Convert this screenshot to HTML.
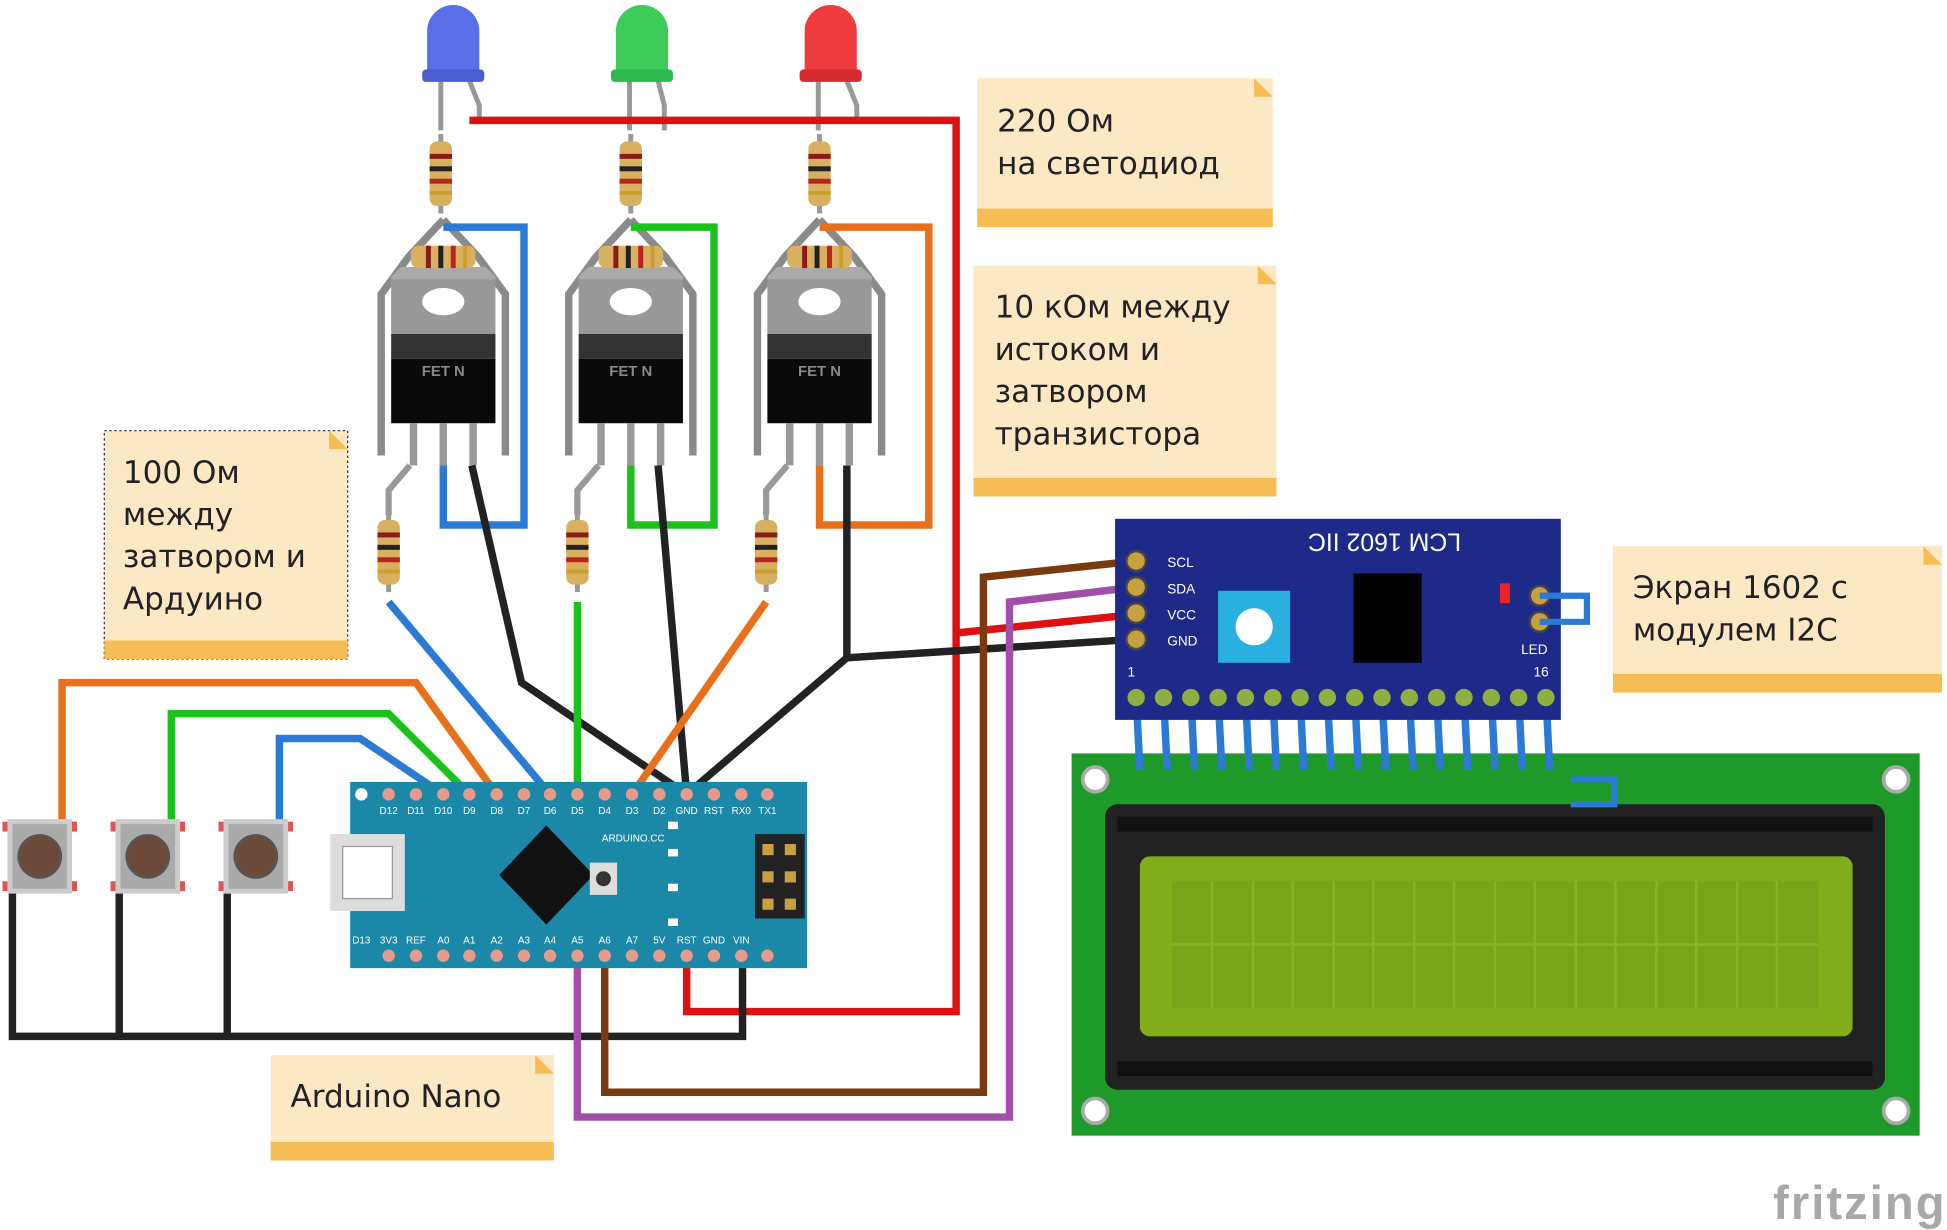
<!DOCTYPE html>
<html><head><meta charset="utf-8"><style>
html,body{margin:0;padding:0;background:#fff;}
svg{display:block}
text{font-family:"Liberation Sans","DejaVu Sans",sans-serif}
.n{font-family:"DejaVu Sans","Liberation Sans",sans-serif;font-size:25px;fill:#222}
</style></head><body>
<svg width="1947" height="1230" viewBox="0 0 1568 991" preserveAspectRatio="none" xmlns="http://www.w3.org/2000/svg">
<rect width="1568" height="991" fill="#fff"/>
<defs>
<g id="fet">
  <path d="M0,-30 L-28,0 L-50,30 L-50,160" fill="none" stroke="#8a8a8a" stroke-width="6"/>
  <path d="M0,-30 L28,0 L50,30 L50,160" fill="none" stroke="#8a8a8a" stroke-width="6"/>
  <path d="M-42,20 h84 v-4 l-8,-8 h-68 l-8,8z" fill="#aaa"/>
  <rect x="-42" y="18" width="84" height="44" fill="#999"/>
  <ellipse cx="0" cy="36" rx="17" ry="11" fill="#fff"/>
  <rect x="-42" y="62" width="84" height="20" fill="#333"/>
  <rect x="-42" y="82" width="84" height="52" fill="#0a0a0a"/>
  <text x="0" y="96" font-size="12" font-weight="bold" fill="#888" text-anchor="middle">FET N</text>
  <rect x="-27" y="134" width="6" height="34" fill="#999"/>
  <rect x="-3" y="134" width="6" height="34" fill="#999"/>
  <rect x="21" y="134" width="6" height="34" fill="#999"/>
</g>
<g id="resv">
  <rect x="-2" y="-32" width="4" height="64" fill="#999"/>
  <rect x="-9" y="-26" width="18" height="52" rx="6" fill="#d8b060"/>
  <rect x="-9" y="-16" width="18" height="4" fill="#8b1a1a"/>
  <rect x="-9" y="-6" width="18" height="4" fill="#222"/>
  <rect x="-9" y="4" width="18" height="4" fill="#b22"/>
  <rect x="-9" y="14" width="18" height="3" fill="#c9a030"/>
</g>
<g id="resh">
  <rect x="-26" y="-9" width="52" height="18" rx="6" fill="#d8b060"/>
  <rect x="-14" y="-9" width="4" height="18" fill="#8b1a1a"/>
  <rect x="-4" y="-9" width="4" height="18" fill="#222"/>
  <rect x="6" y="-9" width="4" height="18" fill="#b22"/>
  <rect x="16" y="-9" width="3" height="18" fill="#c9a030"/>
</g>
<g id="btn">
  <rect x="-26" y="-30" width="52" height="60" fill="#ccc"/>
  <rect x="-22" y="-26" width="44" height="52" fill="#aaa"/>
  <circle r="17" fill="#6b4a3a" stroke="#555" stroke-width="2"/>
  <rect x="-30" y="-28" width="4" height="8" fill="#d55"/><rect x="26" y="-28" width="4" height="8" fill="#d55"/>
  <rect x="-30" y="20" width="4" height="8" fill="#d55"/><rect x="26" y="20" width="4" height="8" fill="#d55"/>
</g>
</defs>

<!-- notes -->
<g>
<rect x="787" y="63" width="238" height="120" fill="#fde8c6"/><rect x="787" y="168" width="238" height="15" fill="#f7bd55"/><path d="M1010,63 l15,15 h-15z" fill="#f7bd55"/>
<text x="803" y="106" class="n">220 Ом</text><text x="803" y="140" class="n">на светодиод</text>
<rect x="784" y="214" width="244" height="186" fill="#fde8c6"/><rect x="784" y="385" width="244" height="15" fill="#f7bd55"/><path d="M1013,214 l15,15 h-15z" fill="#f7bd55"/>
<text x="801" y="256" class="n">10 кОм между</text><text x="801" y="290" class="n">истоком и</text><text x="801" y="324" class="n">затвором</text><text x="801" y="358" class="n">транзистора</text>
<rect x="84" y="347" width="196" height="184" fill="#fde8c6" stroke="#333" stroke-dasharray="2,2"/><rect x="84" y="516" width="196" height="15" fill="#f7bd55"/><path d="M265,347 l15,15 h-15z" fill="#f7bd55"/>
<text x="99" y="389" class="n">100 Ом</text><text x="99" y="423" class="n">между</text><text x="99" y="457" class="n">затвором и</text><text x="99" y="491" class="n">Ардуино</text>
<rect x="1299" y="440" width="265" height="118" fill="#fde8c6"/><rect x="1299" y="543" width="265" height="15" fill="#f7bd55"/><path d="M1549,440 l15,15 h-15z" fill="#f7bd55"/>
<text x="1315" y="482" class="n">Экран 1602 с</text><text x="1315" y="516" class="n">модулем I2C</text>
<rect x="218" y="850" width="228" height="85" fill="#fde8c6"/><rect x="218" y="920" width="228" height="15" fill="#f7bd55"/><path d="M431,850 l15,15 h-15z" fill="#f7bd55"/>
<text x="234" y="892" class="n">Arduino Nano</text>
</g>

<!-- LEDs -->
<g>
<path d="M355,65 v40 M378,65 l8,20 v12" stroke="#999" stroke-width="4" fill="none"/>
<path d="M344,60 v-35 a21,21 0 0 1 42,0 v35z" fill="#5a6ee8"/><rect x="340" y="56" width="50" height="10" rx="3" fill="#4b5ed0"/>
<path d="M507,65 v40 M530,65 l5,20 v20" stroke="#999" stroke-width="4" fill="none"/>
<path d="M496,60 v-35 a21,21 0 0 1 42,0 v35z" fill="#3dcc5a"/><rect x="492" y="56" width="50" height="10" rx="3" fill="#2fb84c"/>
<path d="M659,65 v40 M682,65 l8,20 v12" stroke="#999" stroke-width="4" fill="none"/>
<path d="M648,60 v-35 a21,21 0 0 1 42,0 v35z" fill="#ee3b3b"/><rect x="644" y="56" width="50" height="10" rx="3" fill="#d42c2c"/>
</g>

<path d="M378,97 H770 V815 H553 V770" stroke="#d11" stroke-width="6" fill="none"/>
<path d="M770,510 L915,495" stroke="#d11" stroke-width="6" fill="none"/>

<use href="#resv" x="355" y="140"/><use href="#resv" x="508" y="140"/><use href="#resv" x="660" y="140"/>

<use href="#fet" x="357" y="207"/><use href="#fet" x="508" y="207"/><use href="#fet" x="660" y="207"/>
<use href="#resh" x="357" y="207"/><use href="#resh" x="508" y="207"/><use href="#resh" x="660" y="207"/>

<use href="#resv" x="313" y="445"/><use href="#resv" x="465" y="445"/><use href="#resv" x="617" y="445"/>
<path d="M330,375 L313,395 V415 M482,375 L465,395 V415 M634,375 L617,395 V415" stroke="#999" stroke-width="5" fill="none"/>

<path d="M357,183 H422 V423 H357 V375" stroke="#2a7ad6" stroke-width="6" fill="none"/>
<path d="M508,183 H575 V423 H508 V375" stroke="#1cc21c" stroke-width="6" fill="none"/>
<path d="M660,183 H748 V423 H660 V375" stroke="#e8701a" stroke-width="6" fill="none"/>
<path d="M380,375 L420,550 L553,640" stroke="#222" stroke-width="6" fill="none"/>
<path d="M530,375 L553,640" stroke="#222" stroke-width="6" fill="none"/>
<path d="M682,375 V530 L553,640 M682,530 L915,515" stroke="#222" stroke-width="6" fill="none"/>
<path d="M313,485 L443,640" stroke="#2a7ad6" stroke-width="6" fill="none"/>
<path d="M465,485 V640" stroke="#1cc21c" stroke-width="6" fill="none"/>
<path d="M617,485 L509,640" stroke="#e8701a" stroke-width="6" fill="none"/>

<path d="M50,665 V550 H335 L400,640" stroke="#e8701a" stroke-width="6" fill="none"/>
<path d="M138,665 V575 H313 L378,640" stroke="#1cc21c" stroke-width="6" fill="none"/>
<path d="M225,665 V595 H290 L357,640" stroke="#2a7ad6" stroke-width="6" fill="none"/>
<path d="M10,715 V835 H598 V770 M96,715 V835 M183,715 V835" stroke="#222" stroke-width="6" fill="none"/>

<use href="#btn" x="32" y="690"/><use href="#btn" x="119" y="690"/><use href="#btn" x="206" y="690"/>

<path d="M487,770 V880 H792 V465 L915,452" stroke="#7a3a10" stroke-width="6" fill="none"/>
<path d="M465,770 V900 H813 V485 L915,473" stroke="#a050a8" stroke-width="6" fill="none"/>

<!-- Arduino -->
<rect x="282" y="630" width="368" height="150" fill="#1b88a8"/>
<g fill="#e89a8a">
<circle cx="313" cy="640" r="5"/><circle cx="335" cy="640" r="5"/><circle cx="357" cy="640" r="5"/><circle cx="378" cy="640" r="5"/><circle cx="400" cy="640" r="5"/><circle cx="422" cy="640" r="5"/><circle cx="443" cy="640" r="5"/><circle cx="465" cy="640" r="5"/><circle cx="487" cy="640" r="5"/><circle cx="509" cy="640" r="5"/><circle cx="531" cy="640" r="5"/><circle cx="553" cy="640" r="5"/><circle cx="575" cy="640" r="5"/><circle cx="597" cy="640" r="5"/><circle cx="618" cy="640" r="5"/>
<circle cx="313" cy="770" r="5"/><circle cx="335" cy="770" r="5"/><circle cx="357" cy="770" r="5"/><circle cx="378" cy="770" r="5"/><circle cx="400" cy="770" r="5"/><circle cx="422" cy="770" r="5"/><circle cx="443" cy="770" r="5"/><circle cx="465" cy="770" r="5"/><circle cx="487" cy="770" r="5"/><circle cx="509" cy="770" r="5"/><circle cx="531" cy="770" r="5"/><circle cx="553" cy="770" r="5"/><circle cx="575" cy="770" r="5"/><circle cx="597" cy="770" r="5"/><circle cx="618" cy="770" r="5"/>
</g>
<circle cx="291" cy="640" r="5" fill="#fff"/>
<g font-size="8" fill="#fff" text-anchor="middle">
<text x="313" y="656">D12</text><text x="335" y="656">D11</text><text x="357" y="656">D10</text><text x="378" y="656">D9</text><text x="400" y="656">D8</text><text x="422" y="656">D7</text><text x="443" y="656">D6</text><text x="465" y="656">D5</text><text x="487" y="656">D4</text><text x="509" y="656">D3</text><text x="531" y="656">D2</text><text x="553" y="656">GND</text><text x="575" y="656">RST</text><text x="597" y="656">RX0</text><text x="618" y="656">TX1</text>
<text x="291" y="760">D13</text><text x="313" y="760">3V3</text><text x="335" y="760">REF</text><text x="357" y="760">A0</text><text x="378" y="760">A1</text><text x="400" y="760">A2</text><text x="422" y="760">A3</text><text x="443" y="760">A4</text><text x="465" y="760">A5</text><text x="487" y="760">A6</text><text x="509" y="760">A7</text><text x="531" y="760">5V</text><text x="553" y="760">RST</text><text x="575" y="760">GND</text><text x="597" y="760">VIN</text>
<text x="510" y="678">ARDUINO.CC</text>
</g>
<rect x="266" y="672" width="60" height="62" fill="#ddd"/><rect x="276" y="682" width="40" height="42" fill="#fff" stroke="#999"/>
<path d="M440,665 L478,705 L440,745 L402,705z" fill="#111"/>
<rect x="475" y="695" width="22" height="26" fill="#ddd"/><circle cx="486" cy="708" r="6" fill="#333"/>
<rect x="608" y="672" width="40" height="68" fill="#222"/>
<g fill="#c9a040"><rect x="614" y="680" width="9" height="9"/><rect x="632" y="680" width="9" height="9"/><rect x="614" y="702" width="9" height="9"/><rect x="632" y="702" width="9" height="9"/><rect x="614" y="724" width="9" height="9"/><rect x="632" y="724" width="9" height="9"/></g>
<g fill="#fff"><rect x="538" y="662" width="8" height="6"/><rect x="538" y="684" width="8" height="6"/><rect x="538" y="712" width="8" height="6"/><rect x="538" y="740" width="8" height="6"/></g>

<!-- LCD -->
<rect x="863" y="607" width="683" height="308" fill="#1e9a2a"/>
<g fill="#fff" stroke="#aaa" stroke-width="3"><circle cx="882" cy="628" r="10"/><circle cx="1527" cy="628" r="10"/><circle cx="882" cy="895" r="10"/><circle cx="1527" cy="895" r="10"/></g>
<rect x="890" y="648" width="628" height="230" rx="10" fill="#222"/>
<rect x="900" y="658" width="608" height="12" fill="#111"/><rect x="900" y="855" width="608" height="12" fill="#111"/>
<rect x="918" y="690" width="574" height="145" rx="8" fill="#7fae1a"/>
<rect x="944" y="710" width="520" height="102" fill="#77a418"/>
<g stroke="#86b524" stroke-width="2">
<path d="M944,761 H1464"/>
<path d="M976,710v102M1009,710v102M1041,710v102M1074,710v102M1106,710v102M1139,710v102M1171,710v102M1204,710v102M1236,710v102M1269,710v102M1301,710v102M1334,710v102M1366,710v102M1399,710v102M1431,710v102"/>
</g>
<path d="M1265,628 H1300 V648 H1265" stroke="#2a7ad6" stroke-width="5" fill="none"/>
<g stroke="#2a7ad6" stroke-width="6">
<path d="M915,560 L918,620M937,560 L940,620M959,560 L962,620M981,560 L984,620M1003,560 L1006,620M1025,560 L1028,620M1047,560 L1050,620M1069,560 L1072,620M1091,560 L1094,620M1113,560 L1116,620M1135,560 L1138,620M1157,560 L1160,620M1179,560 L1182,620M1201,560 L1204,620M1223,560 L1226,620M1245,560 L1248,620"/>
</g>

<!-- I2C module -->
<rect x="898" y="418" width="359" height="162" fill="#1e2a8a"/>
<text x="1115" y="444" font-size="20" fill="#fff" text-anchor="middle" transform="rotate(180 1115 437)">LCM 1602 IIC</text>
<rect x="981" y="476" width="58" height="58" fill="#2ab0e0"/><circle cx="1010" cy="505" r="15" fill="#fff"/>
<rect x="1090" y="462" width="55" height="72" fill="#000"/>
<rect x="1208" y="470" width="8" height="16" fill="#e22"/>
<g fill="#fff" font-size="11"><text x="940" y="457">SCL</text><text x="940" y="478">SDA</text><text x="940" y="499">VCC</text><text x="940" y="520">GND</text><text x="1225" y="527">LED</text><text x="908" y="545">1</text><text x="1235" y="545">16</text></g>
<g fill="#c9a040" stroke="#444" stroke-width="2">
<circle cx="915" cy="452" r="8"/><circle cx="915" cy="473" r="8"/><circle cx="915" cy="494" r="8"/><circle cx="915" cy="515" r="8"/>
<circle cx="1240" cy="480" r="8"/><circle cx="1240" cy="501" r="8"/>
</g>
<path d="M1240,480 H1278 V501 H1240" stroke="#2a7ad6" stroke-width="5" fill="none"/>
<g fill="#8fb040" stroke="#1e2a8a" stroke-width="2">
<circle cx="915" cy="562" r="8"/><circle cx="937" cy="562" r="8"/><circle cx="959" cy="562" r="8"/><circle cx="981" cy="562" r="8"/><circle cx="1003" cy="562" r="8"/><circle cx="1025" cy="562" r="8"/><circle cx="1047" cy="562" r="8"/><circle cx="1069" cy="562" r="8"/><circle cx="1091" cy="562" r="8"/><circle cx="1113" cy="562" r="8"/><circle cx="1135" cy="562" r="8"/><circle cx="1157" cy="562" r="8"/><circle cx="1179" cy="562" r="8"/><circle cx="1201" cy="562" r="8"/><circle cx="1223" cy="562" r="8"/><circle cx="1245" cy="562" r="8"/>
</g>

<text x="1428" y="982" font-size="38" fill="#a8a8a8" font-weight="bold" textLength="138">fritzing</text>
</svg>
</body></html>
